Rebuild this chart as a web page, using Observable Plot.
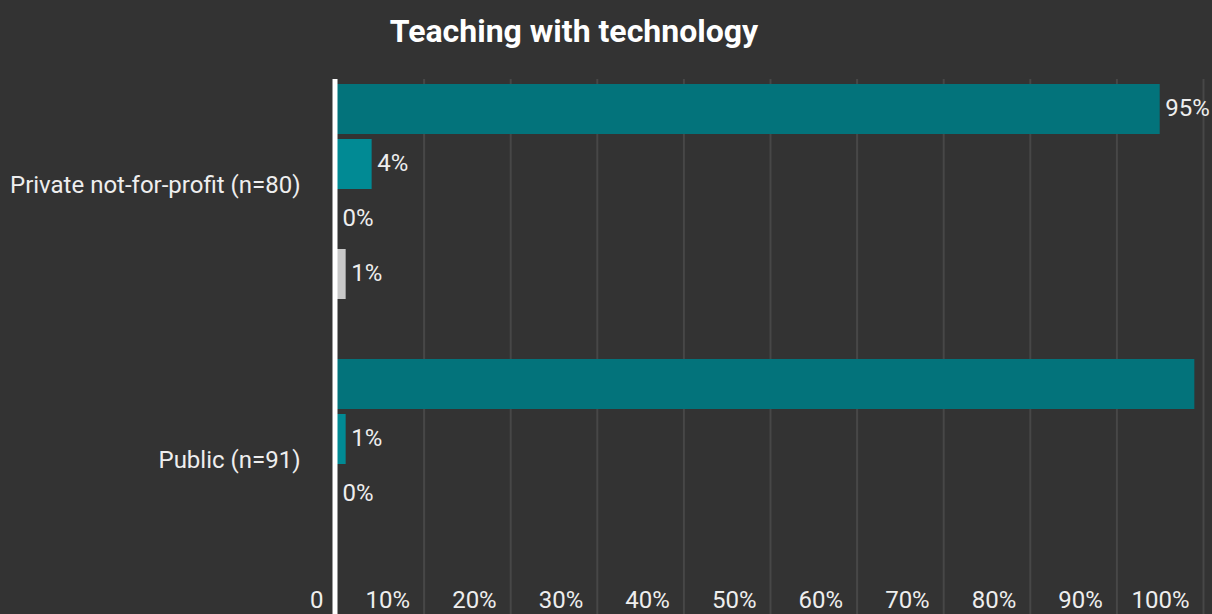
<!DOCTYPE html>
<html>
<head>
<meta charset="utf-8">
<script src="https://cdn.jsdelivr.net/npm/d3@7"></script>
<script src="https://cdn.jsdelivr.net/npm/@observablehq/plot@0.6"></script>
<style>
  html, body { margin: 0; padding: 0; background: #333333; }
  #title {
    width: 1148px; height: 70px; box-sizing: border-box; padding-top: 15px;
    text-align: center; font-family: Roboto, sans-serif; font-weight: 700;
    font-size: 32px; line-height: 32px; color: #ffffff;
  }
  #chart svg { display: block; }
</style>
</head>
<body>
<div id="title">Teaching with technology</div>
<div id="chart"></div>
<script>
const groups = ["Private not-for-profit (n=80)", "Public (n=91)"];
const seriesNames = ["Series 1", "Series 2", "Series 3", "Series 4"];
const privateValues = [95, 4, 0, 1];
const publicValues = [99, 1, 0, null];
const seriesColors = ["#03737b", "#018a94", "#7fc4c9", "#c8c8c8"];
const xTicks = [0, 10, 20, 30, 40, 50, 60, 70, 80, 90, 100];
const xTickLabels = ["0", "10%", "20%", "30%", "40%", "50%", "60%", "70%", "80%", "90%", "100%"];

const groupValues = [privateValues, publicValues];
const rows = [];
groups.forEach((g, gi) => {
  seriesNames.forEach((s, si) => {
    rows.push({group: g, series: s, key: g + "|" + s, value: groupValues[gi][si]});
  });
});
const yDomain = [
  ...seriesNames.map(s => groups[0] + "|" + s),
  "gap",
  ...seriesNames.map(s => groups[1] + "|" + s)
];
const ticks = xTicks.map((t, i) => ({t, label: xTickLabels[i]}));
const groupLabels = groups.map(g => ({group: g, key: g + "|" + seriesNames[1]}));

const chart = Plot.plot({
  width: 1212,
  height: 544,
  marginLeft: 337,
  marginRight: 9,
  marginTop: 9,
  marginBottom: 0,
  style: {background: "#333333", color: "#eeeeee", fontFamily: "Roboto, sans-serif", fontSize: "24px"},
  x: {domain: [0, 100], axis: null},
  y: {domain: yDomain, axis: null, paddingInner: 5 / 55, paddingOuter: 0.409, align: 0.111, round: false},
  color: {domain: seriesNames, range: seriesColors},
  marks: [
    Plot.ruleX(xTicks.filter(t => t > 0), {stroke: "#474747", strokeWidth: 2}),
    Plot.barX(rows, {x: "value", y: "key", fill: "series"}),
    Plot.ruleX([0], {stroke: "#ffffff", strokeWidth: 5, dx: -2.5}),
    Plot.text(rows.filter(d => d.value != null && d.value < 98), {
      x: "value", y: "key", text: d => d.value + "%", textAnchor: "start", dx: 5, dy: -1,
      fill: "#eeeeee", fontSize: 24
    }),
    Plot.text(groupLabels, {
      frameAnchor: "left", y: "key", text: "group", textAnchor: "end", dx: -37, dy: 21,
      fill: "#eeeeee", fontSize: 24
    }),
    Plot.text(ticks, {
      x: "t", frameAnchor: "bottom", text: "label", textAnchor: "end", dx: -14, dy: -7,
      fill: "#eeeeee", fontSize: 24
    })
  ]
});
document.getElementById("chart").appendChild(chart);
</script>
</body>
</html>
